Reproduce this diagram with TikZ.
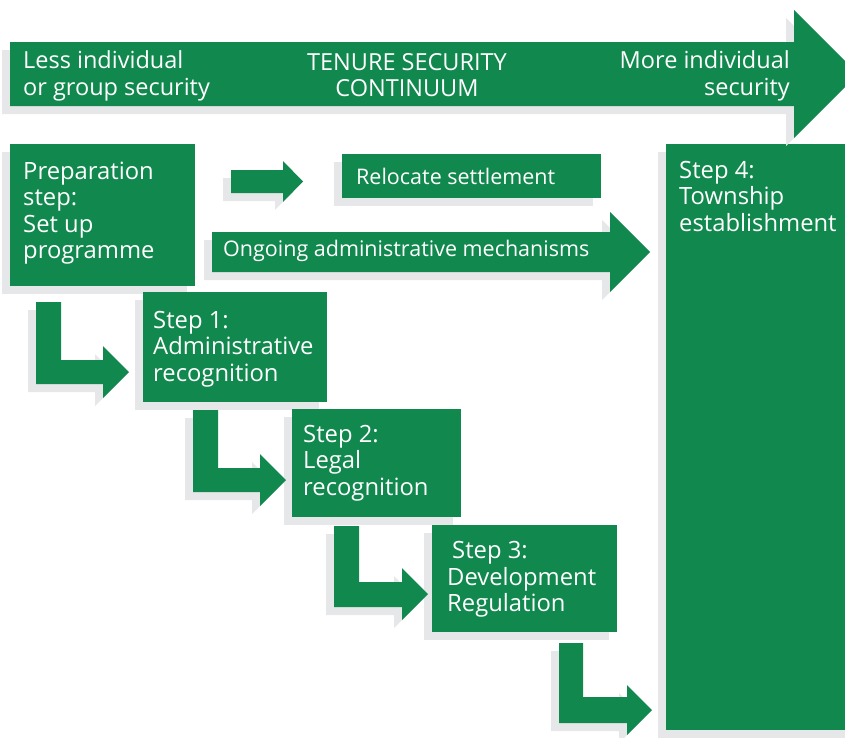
\documentclass[tikz,border=0pt]{standalone}
\usepackage{fontspec}
\setmainfont{Open Sans}
\usetikzlibrary{shadows}
\definecolor{tgreen}{RGB}{17,137,78}
\definecolor{tshadow}{RGB}{230,231,232}
\begin{document}
\begin{tikzpicture}[x=1pt,y=-1pt,
  shd/.style={general shadow={fill=tshadow, shadow xshift=-8pt, shadow yshift=-8pt}},
  gshape/.style={fill=tgreen, shd},
  box/.style={gshape, inner sep=0pt, anchor=north west},
  ttxt/.style={text=white, inner sep=0pt, font=\fontsize{23.5}{26.5}\selectfont},
  txt/.style={text=white, inner sep=0pt, font=\fontsize{23.8}{26.5}\selectfont},
  stxt/.style={txt, font=\fontsize{21.5}{26}\selectfont}]
\useasboundingbox (0,0) rectangle (845,737);
\clip (0,0) rectangle (845,737);
% boxes
\node[box, minimum width=185pt, minimum height=142pt] (prep) at (10,144) {};
\node[box, minimum width=259pt, minimum height=44pt] (reloc) at (342,154) {};
\node[box, minimum width=184pt, minimum height=110pt] (step1) at (143,292) {};
\node[box, minimum width=169pt, minimum height=108pt] (step2) at (292,409) {};
\node[box, minimum width=185pt, minimum height=107pt] (step3) at (432,525) {};
\node[box, minimum width=190pt, minimum height=586pt] (step4) at (666,144) {};
% straight arrows
\path[gshape] (10,42) -- (794,42) -- (794,10) -- (858,74) -- (794,138) -- (794,106) -- (10,106) -- cycle;
\path[gshape] (231,170) -- (283,170) -- (283,161) -- (303,181.5) -- (283,202) -- (283,193) -- (231,193) -- cycle;
\path[gshape] (212,232) -- (610,232) -- (610,212) -- (650,252) -- (610,292) -- (610,272) -- (212,272) -- cycle;
% bent arrows
\path[gshape] (36,302) -- (61,302) -- (61,360) -- (103,360) -- (103,346) -- (129,372) -- (103,398) -- (103,384) -- (36,384) -- cycle;
\path[gshape] (193,410) -- (218,410) -- (218,468) -- (260,468) -- (260,454) -- (286,480) -- (260,506) -- (260,492) -- (193,492) -- cycle;
\path[gshape] (334,526) -- (359,526) -- (359,582) -- (402,582) -- (402,568) -- (428,594) -- (402,620) -- (402,607) -- (334,607) -- cycle;
\path[gshape] (559,643) -- (583,643) -- (583,697) -- (627,697) -- (627,685) -- (652,710) -- (627,735) -- (627,723) -- (559,723) -- cycle;
% texts
\node[ttxt, align=left, anchor=west] (tl) at (23,76) {Less individual\\or group security};
\node[ttxt, align=center, anchor=center] (tc) at (407,75) {TENURE SECURITY\\CONTINUUM};
\node[ttxt, align=right, anchor=east] (tr) at (790,76) {More individual\\security};
\node[txt, align=left, anchor=west] (tprep) at (23,213) {Preparation\\step:\\Set up\\programme};
\node[stxt, align=left, anchor=west] (treloc) at (356,176) {Relocate settlement};
\node[stxt, align=left, anchor=west] (tong) at (223,250.5) {Ongoing administrative mechanisms};
\node[txt, align=left, anchor=west] (t1) at (153,349) {Step 1:\\Administrative\\recognition};
\node[txt, align=left, anchor=west] (t2) at (303,463) {Step 2:\\Legal\\recognition};
\node[txt, align=left, anchor=west] (t3) at (447,579.5) {\hspace{5pt}Step 3:\\Development\\Regulation};
\node[txt, align=left, anchor=north west] (t4) at (679,161) {Step 4:\\Township\\establishment};
\end{tikzpicture}
\end{document}
